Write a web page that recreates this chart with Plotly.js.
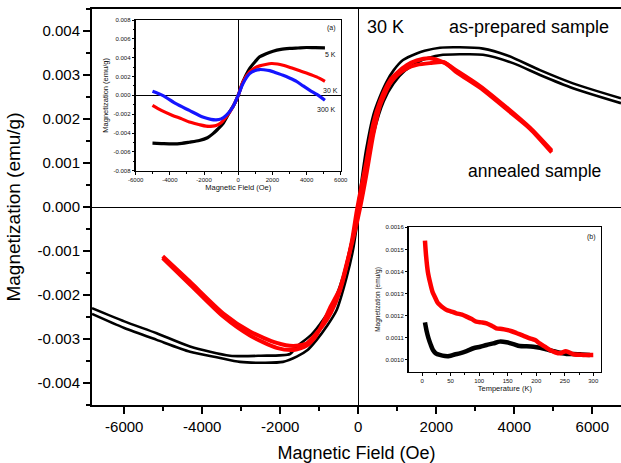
<!DOCTYPE html>
<html>
<head>
<meta charset="utf-8">
<script src="https://cdn.plot.ly/plotly-3.0.1.min.js"></script>
<style>html,body{margin:0;padding:0;background:#fff;}#chart{width:621px;height:463px;}</style>
</head>
<body>
<div id="chart"></div>
<script>
// ---------- Main plot: 30 K hysteresis loops ----------
// as-prepared sample (black), descending branch
const fieldPrepDown = [6736, 5505, 4659, 3805, 3197, 2600, 2095, 1700, 1497, 1146, 900, 728, 550, 385, 200, 43, -41, -200, -392, -650, -905, -1200, -1579, -1751, -2500, -3290, -4315, -5170, -6000, -6828];
const magPrepDown = [0.00247, 0.00281, 0.00311, 0.00345, 0.0036, 0.00363, 0.00362, 0.00355, 0.00349, 0.00334, 0.0031, 0.00285, 0.0025, 0.00209, 0.0013, 0.00035, -0.00015, -0.0009, -0.00158, -0.0022, -0.00257, -0.0029, -0.00317, -0.00334, -0.00338, -0.00338, -0.00317, -0.00287, -0.0026, -0.0023];
// as-prepared sample (black), ascending branch
const fieldPrepUp = [-6828, -6000, -5170, -4315, -3600, -3033, -2400, -1931, -1579, -1300, -1067, -800, -554, -300, -136, 0, 150, 400, 650, 900, 1200, 1667, 2095, 2600, 3197, 3966, 4659, 5505, 6736];
const magPrepUp = [-0.00243, -0.00275, -0.00302, -0.00329, -0.00342, -0.00352, -0.00354, -0.00352, -0.0034, -0.00325, -0.00302, -0.0027, -0.00234, -0.0016, -0.00098, -0.0002, 0.0006, 0.0017, 0.0024, 0.0028, 0.0031, 0.00335, 0.00345, 0.00347, 0.00346, 0.00327, 0.003, 0.0027, 0.00236];
// annealed sample (red), descending branch
const fieldAnnDown = [4959, 4402, 3805, 3120, 2523, 2200, 1838, 1500, 1241, 1000, 813, 556, 385, 200, 43, -41, -169, -469, -700, -897, -1100, -1323, -1667, -2092, -2777, -3461, -4315, -5015];
const magAnnDown = [0.00128, 0.0018, 0.00226, 0.00275, 0.0031, 0.00328, 0.00338, 0.00333, 0.00322, 0.00305, 0.00288, 0.0024, 0.0019, 0.001, 0.0003, -0.0001, -0.0008, -0.0019, -0.0024, -0.00268, -0.0029, -0.0031, -0.00316, -0.00309, -0.00283, -0.00242, -0.0017, -0.00112];
// annealed sample (red), ascending branch
const fieldAnnUp = [-5015, -4315, -3461, -2777, -2092, -1667, -1323, -1100, -897, -700, -469, -300, -100, 50, 200, 385, 556, 813, 1000, 1241, 1500, 1838, 2200, 2523, 3120, 3805, 4402, 4959];
const magAnnUp = [-0.00116, -0.00176, -0.00249, -0.00292, -0.0032, -0.00325, -0.00315, -0.00295, -0.00262, -0.00225, -0.00185, -0.0013, -0.0006, 0.0, 0.0007, 0.00165, 0.0023, 0.0028, 0.003, 0.00315, 0.00323, 0.00327, 0.00329, 0.00306, 0.00271, 0.00222, 0.00178, 0.00124];

const mainXTicks = [-6000, -4000, -2000, 0, 2000, 4000, 6000];
const mainXLabels = ['-6000', '-4000', '-2000', '0', '2000', '4000', '6000'];
const mainYTicks = [-0.004, -0.003, -0.002, -0.001, 0, 0.001, 0.002, 0.003, 0.004];
const mainYLabels = ['-0.004', '-0.003', '-0.002', '-0.001', '0.000', '0.001', '0.002', '0.003', '0.004'];

// ---------- Inset (a): loops at 5 K, 30 K, 300 K ----------
const fieldA5K = [-5018, -4500, -3842, -3300, -2862, -2274, -1800, -1490, -1200, -902, -510, -216, 0, 274, 666, 1000, 1254, 1600, 2038, 2500, 3018, 3500, 4000, 4500, 5076];
const magA5K = [-0.00508, -0.00512, -0.00516, -0.0051, -0.00498, -0.0048, -0.0045, -0.00409, -0.0036, -0.00302, -0.00178, -0.00089, 0, 0.00142, 0.00284, 0.0036, 0.00409, 0.0044, 0.00469, 0.00488, 0.00498, 0.00503, 0.00508, 0.00506, 0.00505];
const fieldA30K = [-5018, -4500, -3842, -3300, -2862, -2300, -1882, -1500, -1294, -1000, -706, -314, 0, 274, 666, 1000, 1254, 1600, 1940, 2300, 2626, 3100, 3606, 4100, 4586, 5076];
const magA30K = [-0.00107, -0.0016, -0.00213, -0.0025, -0.00284, -0.0031, -0.00327, -0.00327, -0.0032, -0.0029, -0.00231, -0.00124, 0, 0.00142, 0.00249, 0.00295, 0.00313, 0.00328, 0.00338, 0.00333, 0.0032, 0.00292, 0.0026, 0.0023, 0.00196, 0.00149];
const fieldA300K = [-5018, -4430, -3646, -2862, -2078, -1600, -1294, -1000, -706, -314, 0, 274, 666, 1000, 1254, 1500, 1842, 2200, 2626, 3000, 3410, 3800, 4194, 4600, 5076];
const magA300K = [0.00043, 0, -0.00089, -0.0016, -0.00231, -0.00255, -0.0026, -0.0025, -0.00213, -0.00124, 0, 0.00124, 0.00231, 0.00265, 0.00274, 0.00272, 0.00263, 0.0024, 0.00213, 0.00185, 0.00149, 0.001, 0.00053, 0.0001, -0.00053];
const aXTicks = [-6000, -4000, -2000, 0, 2000, 4000, 6000];
const aXLabels = ['-6000', '-4000', '-2000', '0', '2000', '4000', '6000'];
const aYTicks = [-0.008, -0.006, -0.004, -0.002, 0, 0.002, 0.004, 0.006, 0.008];
const aYLabels = ['-0.008', '-0.006', '-0.004', '-0.002', '0.000', '0.002', '0.004', '0.006', '0.008'];

// ---------- Inset (b): M vs temperature ----------
const tempRed = [5, 7, 10, 14, 18, 22, 27, 31, 37, 43, 50, 60, 70, 78, 87, 95, 104, 113, 122, 130, 140, 148, 157, 166, 177, 189, 198, 206, 215, 224, 233, 242, 252, 265, 282, 300];
const magRed = [0.00154, 0.00147, 0.0014, 0.00135, 0.00131, 0.001287, 0.00126, 0.001249, 0.001236, 0.001226, 0.00122, 0.001211, 0.001205, 0.001196, 0.001185, 0.001173, 0.00117, 0.001166, 0.001155, 0.001143, 0.00114, 0.001136, 0.00113, 0.001121, 0.00111, 0.001098, 0.00109, 0.001075, 0.00106, 0.001045, 0.001035, 0.00103, 0.00104, 0.001026, 0.001023, 0.001023];
const tempBlack = [5, 8, 11, 15, 19, 24, 31, 40, 48, 57, 66, 78, 90, 102, 113, 125, 136, 148, 160, 171, 183, 195, 207, 218, 230, 241, 253, 265, 280, 294];
const magBlack = [0.00117, 0.00113, 0.0011, 0.00107, 0.001045, 0.00103, 0.001023, 0.001018, 0.001018, 0.001025, 0.00103, 0.00104, 0.001053, 0.00106, 0.001068, 0.001075, 0.001083, 0.00108, 0.001072, 0.001063, 0.001062, 0.00106, 0.001055, 0.001048, 0.00104, 0.001033, 0.001027, 0.001027, 0.001025, 0.001023];
const bXTicks = [0, 50, 100, 150, 200, 250, 300];
const bYTicks = [0.0010, 0.0011, 0.0012, 0.0013, 0.0014, 0.0015, 0.0016];
const bYLabels = ['0.0010', '0.0011', '0.0012', '0.0013', '0.0014', '0.0015', '0.0016'];

const FONT = 'Liberation Sans, Arial, sans-serif';
const BLACK = '#000000', RED = '#ff0000', BLUE = '#1515ff';

function ln(x, y, color, width, xa, ya) {
  return {x: x, y: y, type: 'scatter', mode: 'lines', xaxis: xa, yaxis: ya,
    line: {color: color, width: width, shape: 'spline', smoothing: 0.7}, showlegend: false, hoverinfo: 'skip'};
}

const traces = [
  ln(fieldPrepDown, magPrepDown, BLACK, 2.6, 'x', 'y'),
  ln(fieldPrepUp, magPrepUp, BLACK, 2.6, 'x', 'y'),
  ln(fieldAnnDown, magAnnDown, RED, 4, 'x', 'y'),
  ln(fieldAnnUp, magAnnUp, RED, 4, 'x', 'y'),
  ln(fieldA5K, magA5K, BLACK, 3.2, 'x2', 'y2'),
  ln(fieldA30K, magA30K, RED, 3.2, 'x2', 'y2'),
  ln(fieldA300K, magA300K, BLUE, 3.2, 'x2', 'y2'),
  ln(tempBlack, magBlack, BLACK, 4.5, 'x3', 'y3'),
  ln(tempRed, magRed, RED, 4.5, 'x3', 'y3')
];

const insetTick = {family: FONT, size: 6, color: '#111'};
const insetTitle = {family: FONT, size: 7.5, color: '#111'};

const layout = {
  width: 621, height: 463,
  margin: {l: 92, r: 0, t: 9, b: 58},
  paper_bgcolor: '#ffffff', plot_bgcolor: 'rgba(0,0,0,0)',
  font: {family: FONT, color: '#000'},
  showlegend: false,
  xaxis: {
    range: [-6828, 6736], tickmode: 'array', tickvals: mainXTicks, ticktext: mainXLabels,
    ticks: 'outside', ticklen: 7, tickwidth: 2, tickcolor: '#000',
    minor: {dtick: 1000, tick0: 0, ticks: 'outside', ticklen: 4, tickwidth: 2, tickcolor: '#000', showgrid: false},
    showline: true, linewidth: 2, linecolor: '#000', mirror: true,
    showgrid: false, zeroline: true, zerolinecolor: '#000', zerolinewidth: 1,
    tickfont: {family: FONT, size: 15, color: '#000'},
    title: {text: 'Magnetic Field (Oe)', font: {family: FONT, size: 18, color: '#000'}, standoff: 14}
  },
  yaxis: {
    range: [-0.0045, 0.0045], tickmode: 'array', tickvals: mainYTicks, ticktext: mainYLabels,
    ticks: 'outside', ticklen: 7, tickwidth: 2, tickcolor: '#000',
    minor: {dtick: 0.0005, tick0: 0, ticks: 'outside', ticklen: 4, tickwidth: 2, tickcolor: '#000', showgrid: false},
    showline: true, linewidth: 2, linecolor: '#000',
    showgrid: false, zeroline: true, zerolinecolor: '#000', zerolinewidth: 1,
    tickfont: {family: FONT, size: 15, color: '#000'},
    title: {text: 'Magnetization (emu/g)', font: {family: FONT, size: 19, color: '#000'}, standoff: 12}
  },
  xaxis2: {
    domain: [0.0826, 0.4702], anchor: 'y2', range: [-6000, 6000],
    tickmode: 'array', tickvals: aXTicks, ticktext: aXLabels,
    ticks: 'outside', ticklen: 2.5, tickwidth: 1, tickcolor: '#000',
    minor: {dtick: 1000, tick0: 0, ticks: 'outside', ticklen: 1.5, tickwidth: 1, tickcolor: '#000'},
    showline: true, linewidth: 1.5, linecolor: '#000', mirror: true,
    showgrid: false, zeroline: true, zerolinecolor: '#000', zerolinewidth: 1,
    tickfont: insetTick,
    title: {text: 'Magnetic Field (Oe)', font: insetTitle, standoff: 3}
  },
  yaxis2: {
    domain: [0.5917, 0.9722], anchor: 'x2', range: [-0.008, 0.008],
    tickmode: 'array', tickvals: aYTicks, ticktext: aYLabels,
    ticks: 'outside', ticklen: 2.5, tickwidth: 1, tickcolor: '#000',
    minor: {dtick: 0.001, tick0: 0, ticks: 'outside', ticklen: 1.5, tickwidth: 1, tickcolor: '#000'},
    showline: true, linewidth: 1.5, linecolor: '#000', mirror: true,
    showgrid: false, zeroline: true, zerolinecolor: '#000', zerolinewidth: 1,
    tickfont: insetTick,
    title: {text: 'Magnetization (emu/g)', font: insetTitle, standoff: 4}
  },
  xaxis3: {
    domain: [0.5992, 0.9616], anchor: 'y3', range: [-23, 313],
    tickmode: 'array', tickvals: bXTicks,
    ticks: 'outside', ticklen: 2.5, tickwidth: 1, tickcolor: '#000',
    minor: {dtick: 25, tick0: 0, ticks: 'outside', ticklen: 1.5, tickwidth: 1, tickcolor: '#000'},
    showline: true, linewidth: 1.5, linecolor: '#000', mirror: true,
    showgrid: false, zeroline: false,
    tickfont: insetTick,
    title: {text: 'Temperature (K)', font: insetTitle, standoff: 3}
  },
  yaxis3: {
    domain: [0.0841, 0.4487], anchor: 'x3', range: [0.000947, 0.0016],
    tickmode: 'array', tickvals: bYTicks, ticktext: bYLabels,
    ticks: 'outside', ticklen: 2.5, tickwidth: 1, tickcolor: '#000',
    showline: true, linewidth: 1.5, linecolor: '#000', mirror: true,
    showgrid: false, zeroline: false,
    tickfont: insetTick,
    title: {text: 'Magnetization (emu/g)', font: {family: FONT, size: 6.5, color: '#111'}, standoff: 4}
  },
  annotations: [
    {text: '30 K', xref: 'paper', yref: 'paper', x: 0.516, y: 0.9545, xanchor: 'left', yanchor: 'middle', showarrow: false, font: {family: FONT, size: 18, color: '#000'}},
    {text: 'as-prepared sample', xref: 'paper', yref: 'paper', x: 0.671, y: 0.9545, xanchor: 'left', yanchor: 'middle', showarrow: false, font: {family: FONT, size: 18, color: '#000'}},
    {text: 'annealed sample', xref: 'paper', yref: 'paper', x: 0.707, y: 0.591, xanchor: 'left', yanchor: 'middle', showarrow: false, font: {family: FONT, size: 17.5, color: '#000'}},
    {text: '(a)', xref: 'x2 domain', yref: 'y2 domain', x: 0.985, y: 0.95, xanchor: 'right', yanchor: 'middle', showarrow: false, font: {family: FONT, size: 7, color: '#111'}},
    {text: '5 K', xref: 'x2 domain', yref: 'y2 domain', x: 0.985, y: 0.77, xanchor: 'right', yanchor: 'middle', showarrow: false, font: {family: FONT, size: 7, color: '#111'}},
    {text: '30 K', xref: 'x2 domain', yref: 'y2 domain', x: 0.995, y: 0.535, xanchor: 'right', yanchor: 'middle', showarrow: false, font: {family: FONT, size: 7, color: '#111'}},
    {text: '300 K', xref: 'x2 domain', yref: 'y2 domain', x: 0.985, y: 0.405, xanchor: 'right', yanchor: 'middle', showarrow: false, font: {family: FONT, size: 7, color: '#111'}},
    {text: '(b)', xref: 'x3 domain', yref: 'y3 domain', x: 0.985, y: 0.93, xanchor: 'right', yanchor: 'middle', showarrow: false, font: {family: FONT, size: 7, color: '#111'}}
  ]
};

Plotly.newPlot('chart', traces, layout, {staticPlot: true, displayModeBar: false});
</script>
</body>
</html>
